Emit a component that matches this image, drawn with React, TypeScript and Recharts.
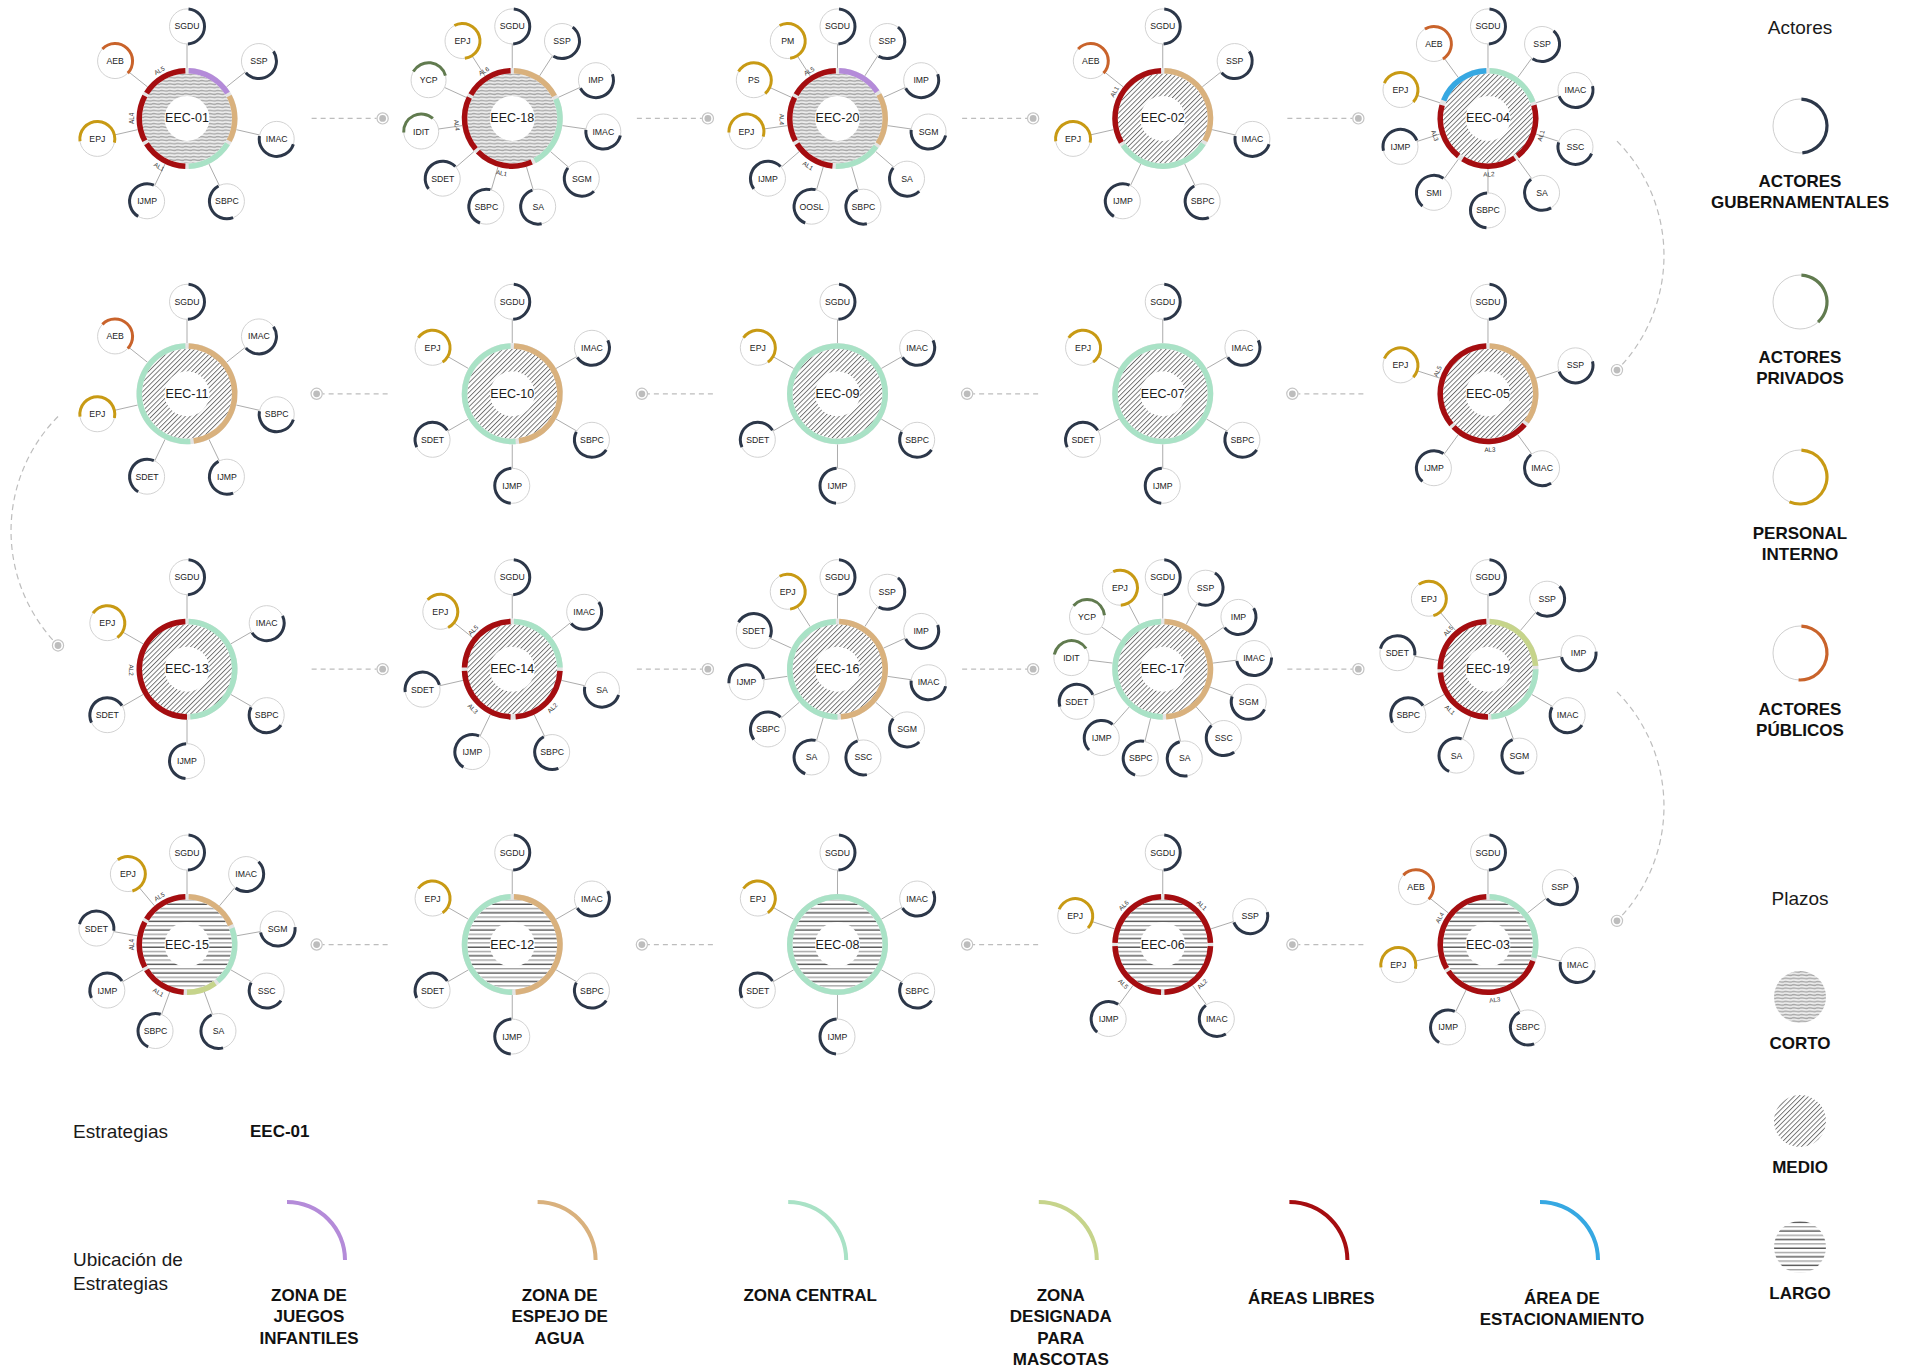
import { ScatterChart, Scatter, XAxis, YAxis, Sector } from "recharts";

const W = 1916;
const H = 1370;
const FONT = '"Liberation Sans", Arial, Helvetica, sans-serif';

// recorrido de las estrategias (serpentina, 5 por fila)
const sequence = [
  "EEC-01", "EEC-18", "EEC-20", "EEC-02", "EEC-04",
  "EEC-05", "EEC-07", "EEC-09", "EEC-10", "EEC-11",
  "EEC-13", "EEC-14", "EEC-16", "EEC-17", "EEC-19",
  "EEC-03", "EEC-06", "EEC-08", "EEC-12", "EEC-15",
];

const plazos = [
  "corto", "corto", "corto", "medio", "medio",
  "medio", "medio", "medio", "medio", "medio",
  "medio", "medio", "medio", "medio", "medio",
  "largo", "largo", "largo", "largo", "largo",
];

const actores = [
  ["SGDU", "SSP", "IMAC", "SBPC", "IJMP", "EPJ", "AEB"],
  ["SGDU", "SSP", "IMP", "IMAC", "SGM", "SA", "SBPC", "SDET", "IDIT", "YCP", "EPJ"],
  ["SGDU", "SSP", "IMP", "SGM", "SA", "SBPC", "OOSL", "IJMP", "EPJ", "PS", "PM"],
  ["SGDU", "SSP", "IMAC", "SBPC", "IJMP", "EPJ", "AEB"],
  ["SGDU", "SSP", "IMAC", "SSC", "SA", "SBPC", "SMI", "IJMP", "EPJ", "AEB"],
  ["SGDU", "SSP", "IMAC", "IJMP", "EPJ"],
  ["SGDU", "IMAC", "SBPC", "IJMP", "SDET", "EPJ"],
  ["SGDU", "IMAC", "SBPC", "IJMP", "SDET", "EPJ"],
  ["SGDU", "IMAC", "SBPC", "IJMP", "SDET", "EPJ"],
  ["SGDU", "IMAC", "SBPC", "IJMP", "SDET", "EPJ", "AEB"],
  ["SGDU", "IMAC", "SBPC", "IJMP", "SDET", "EPJ"],
  ["SGDU", "IMAC", "SA", "SBPC", "IJMP", "SDET", "EPJ"],
  ["SGDU", "SSP", "IMP", "IMAC", "SGM", "SSC", "SA", "SBPC", "IJMP", "SDET", "EPJ"],
  ["SGDU", "SSP", "IMP", "IMAC", "SGM", "SSC", "SA", "SBPC", "IJMP", "SDET", "IDIT", "YCP", "EPJ"],
  ["SGDU", "SSP", "IMP", "IMAC", "SGM", "SA", "SBPC", "SDET", "EPJ"],
  ["SGDU", "SSP", "IMAC", "SBPC", "IJMP", "EPJ", "AEB"],
  ["SGDU", "SSP", "IMAC", "IJMP", "EPJ"],
  ["SGDU", "IMAC", "SBPC", "IJMP", "SDET", "EPJ"],
  ["SGDU", "IMAC", "SBPC", "IJMP", "SDET", "EPJ"],
  ["SGDU", "IMAC", "SGM", "SSC", "SA", "SBPC", "IJMP", "SDET", "EPJ"],
];

// [zona, desde (grados, reloj), hasta, etiqueta]
type Segment = [string, number, number, string?];
const ubicaciones: Segment[][] = [
  [["juegos", 2, 58], ["espejo", 62, 118], ["central", 122, 178], ["libres", 182, 238, "AL1"], ["libres", 242, 298, "AL4"], ["libres", 302, 358, "AL5"]],
  [["espejo", 2, 62], ["central", 66, 152], ["libres", 156, 226, "AL1"], ["libres", 230, 296, "AL4"], ["libres", 300, 358, "AL6"]],
  [["juegos", 2, 56], ["espejo", 60, 122], ["central", 126, 182], ["libres", 186, 238, "AL1"], ["libres", 242, 296, "AL4"], ["libres", 300, 358, "AL5"]],
  [["espejo", 2, 118], ["central", 122, 236], ["libres", 240, 358, "AL1"]],
  [["central", 2, 70], ["libres", 74, 142, "AL1"], ["libres", 146, 212, "AL2"], ["libres", 218, 286, "AL3"], ["estacionamiento", 292, 358]],
  [["espejo", 2, 126], ["libres", 130, 226, "AL3"], ["libres", 230, 358, "AL5"]],
  [["central", 0, 360]],
  [["central", 0, 360]],
  [["espejo", 2, 172], ["central", 176, 358]],
  [["espejo", 2, 172], ["central", 176, 358]],
  [["central", 2, 176], ["libres", 180, 358, "AL2"]],
  [["central", 2, 88], ["libres", 92, 176, "AL2"], ["libres", 182, 268, "AL3"], ["libres", 272, 358, "AL5"]],
  [["espejo", 2, 176], ["central", 180, 358]],
  [["espejo", 2, 176], ["central", 180, 358]],
  [["mascotas", 2, 86], ["central", 90, 176], ["libres", 180, 266, "AL1"], ["libres", 270, 358, "AL5"]],
  [["central", 2, 106], ["libres", 110, 236, "AL3"], ["libres", 240, 358, "AL4"]],
  [["libres", 2, 88, "AL1"], ["libres", 92, 178, "AL2"], ["libres", 182, 268, "AL5"], ["libres", 272, 358, "AL6"]],
  [["central", 0, 360]],
  [["espejo", 2, 176], ["central", 180, 358]],
  [["espejo", 2, 66], ["central", 70, 140], ["mascotas", 144, 180], ["libres", 184, 238, "AL1"], ["libres", 242, 298, "AL4"], ["libres", 302, 358, "AL5"]],
];

const actoresGubernamentales = ["SGDU", "SSP", "IMAC", "SBPC", "IJMP", "SDET", "IMP", "SGM", "SA", "SSC", "SMI", "OOSL"];
const actoresPrivados = ["YCP", "IDIT"];
const personalInterno = ["EPJ", "PS", "PM"];
const actoresPublicos = ["AEB"];

const zonas = ["juegos", "espejo", "central", "mascotas", "libres", "estacionamiento"];
const zonaLabels = [
  ["ZONA DE", "JUEGOS", "INFANTILES"],
  ["ZONA DE", "ESPEJO DE", "AGUA"],
  ["ZONA CENTRAL"],
  ["ZONA", "DESIGNADA", "PARA", "MASCOTAS"],
  ["ÁREAS LIBRES"],
  ["ÁREA DE", "ESTACIONAMIENTO"],
];

const zonaColor: Record<string, string> = {
  juegos: "#b48bd9",
  espejo: "#d9b17d",
  central: "#a9e2c6",
  mascotas: "#c6d48b",
  libres: "#a50d10",
  estacionamiento: "#36a8e2",
};

const actorStyle = {
  gub: { color: "#2c3749", span: 172 },
  priv: { color: "#617b4f", span: 135 },
  int: { color: "#c89a14", span: 200 },
  pub: { color: "#c9632b", span: 180 },
};

const actorKind = (a: string) =>
  actoresPrivados.includes(a) ? "priv" : personalInterno.includes(a) ? "int" : actoresPublicos.includes(a) ? "pub" : "gub";

const COLS = 5;
const posOf = (i: number) => {
  const row = Math.floor(i / COLS);
  const k = i % COLS;
  return { row, col: row % 2 === 0 ? k : COLS - 1 - k };
};

const nodeData = sequence.map((name, i) => ({
  name,
  ...posOf(i),
  plazo: plazos[i],
  actors: actores[i],
  segments: ubicaciones[i],
}));

const linkData = sequence.slice(0, -1).map((_, i) => {
  const a = posOf(i);
  const b = posOf(i + 1);
  return {
    col: (a.col + b.col) / 2,
    row: (a.row + b.row) / 2,
    dx: b.col - a.col,
    dy: b.row - a.row,
    side: a.col === 0 ? -1 : 1,
  };
});

// geometry (px)
const RING_OUT = 50.5;
const RING_IN = 45;
const HOLE = 22.5;
const ORBIT = 92;
const ACTOR_R = 17.5;

const polar = (deg: number) => {
  const r = (deg * Math.PI) / 180;
  return [Math.sin(r), -Math.cos(r)];
};

function Arc({ cx, cy, r0, r1, from, to, fill }: any) {
  return (
    <Sector
      cx={cx}
      cy={cy}
      innerRadius={r0}
      outerRadius={r1}
      startAngle={90 - from}
      endAngle={90 - to}
      fill={fill}
      stroke="none"
    />
  );
}

function StrategyNode(props: any) {
  const { cx, cy, payload } = props;
  if (cx == null || cy == null) return null;
  const { name, plazo, actors, segments } = payload;
  const n = actors.length;
  return (
    <g>
      {actors.map((a: string, k: number) => {
        const [sx, sy] = polar((k * 360) / n);
        return (
          <line
            key={"s" + a}
            x1={cx + sx * RING_OUT}
            y1={cy + sy * RING_OUT}
            x2={cx + sx * (ORBIT - ACTOR_R)}
            y2={cy + sy * (ORBIT - ACTOR_R)}
            stroke="#a3a3a3"
            strokeWidth={0.9}
          />
        );
      })}
      <circle cx={cx} cy={cy} r={RING_IN} fill={`url(#plazo-${plazo})`} />
      <circle cx={cx} cy={cy} r={HOLE} fill="#fff" />
      <circle cx={cx} cy={cy} r={(RING_IN + RING_OUT) / 2} fill="none" stroke="#e4e4e4" strokeWidth={RING_OUT - RING_IN} />
      {segments.map((s: Segment, k: number) => (
        <Arc key={"g" + k} cx={cx} cy={cy} r0={RING_IN} r1={RING_OUT} from={s[1]} to={s[2]} fill={zonaColor[s[0]]} />
      ))}
      {segments
        .filter((s: Segment) => s[3])
        .map((s: Segment, k: number) => {
          const mid = (s[1] + s[2]) / 2;
          const [lx, ly] = polar(mid);
          const rot = mid > 90 && mid < 270 ? mid - 180 : mid;
          const x = cx + lx * 55.5;
          const y = cy + ly * 55.5;
          return (
            <text
              key={"l" + k}
              x={x}
              y={y}
              transform={`rotate(${rot} ${x} ${y})`}
              textAnchor="middle"
              dominantBaseline="central"
              fontSize={6.3}
              fill="#333"
              fontFamily={FONT}
            >
              {s[3]}
            </text>
          );
        })}
      <text x={cx} y={cy} textAnchor="middle" dominantBaseline="central" fontSize={12.5} fill="#1b1b1b" fontFamily={FONT}>
        {name}
      </text>
      {actors.map((a: string, k: number) => {
        const ang = (k * 360) / n;
        const [sx, sy] = polar(ang);
        const ax = cx + sx * ORBIT;
        const ay = cy + sy * ORBIT;
        const st = (actorStyle as any)[actorKind(a)];
        return (
          <g key={"a" + a}>
            <circle cx={ax} cy={ay} r={ACTOR_R} fill="#fff" stroke="#cdcdcd" strokeWidth={0.9} />
            <Arc cx={ax} cy={ay} r0={ACTOR_R - 1.5} r1={ACTOR_R + 1.5} from={ang + 5} to={ang + 5 + st.span} fill={st.color} />
            <text x={ax} y={ay} textAnchor="middle" dominantBaseline="central" fontSize={8.7} fill="#222" fontFamily={FONT}>
              {a}
            </text>
          </g>
        );
      })}
    </g>
  );
}

function LinkShape(props: any) {
  const { cx, cy, payload } = props;
  if (cx == null || cy == null) return null;
  const stroke = "#bdbdbd";
  let ex: number;
  let ey: number;
  let body;
  if (payload.dy === 0) {
    const d = payload.dx;
    ex = cx + 33 * d;
    ey = cy;
    body = <line x1={cx - 38 * d} y1={cy} x2={cx + 27 * d} y2={cy} stroke={stroke} strokeWidth={1.3} strokeDasharray="5 4" />;
  } else {
    const s = payload.side;
    const x = cx + 129 * s;
    const y1 = cy - 115;
    const y2 = cy + 114;
    ex = x;
    ey = y2;
    body = (
      <path
        d={`M ${x} ${y1} A 163 163 0 0 ${s > 0 ? 1 : 0} ${x} ${y2}`}
        fill="none"
        stroke={stroke}
        strokeWidth={1.2}
        strokeDasharray="6 4"
      />
    );
  }
  return (
    <g>
      {body}
      <circle cx={ex} cy={ey} r={5.6} fill="#fff" stroke="#c4c4c4" strokeWidth={1.2} />
      <circle cx={ex} cy={ey} r={3.4} fill="#bdbdbd" />
    </g>
  );
}

function Legends() {
  const lx = 1800;
  const actorRows = [
    { kind: "gub", cy: 126, lines: ["ACTORES", "GUBERNAMENTALES"], ly: 181 },
    { kind: "priv", cy: 302, lines: ["ACTORES", "PRIVADOS"], ly: 357 },
    { kind: "int", cy: 477, lines: ["PERSONAL", "INTERNO"], ly: 533 },
    { kind: "pub", cy: 653, lines: ["ACTORES", "PÚBLICOS"], ly: 709 },
  ];
  const plazoRows = [
    { id: "corto", label: "CORTO", cy: 997 },
    { id: "medio", label: "MEDIO", cy: 1121 },
    { id: "largo", label: "LARGO", cy: 1247 },
  ];
  const bold = { fontFamily: FONT, fontWeight: 700, fontSize: 17, fill: "#111" };
  const reg = { fontFamily: FONT, fontSize: 19, fill: "#1a1a1a" };
  return (
    <svg width={W} height={H} style={{ position: "absolute", left: 0, top: 0, pointerEvents: "none" }}>
      <defs>
        <pattern id="plazo-corto" patternUnits="userSpaceOnUse" width="8" height="3.3">
          <rect width="8" height="3.3" fill="#ededed" />
          <path d="M0 1.65 Q2 1.1 4 1.65 T8 1.65" stroke="#a6a6a6" strokeWidth="1.4" fill="none" />
        </pattern>
        <pattern id="plazo-medio" patternUnits="userSpaceOnUse" width="3.4" height="3.4" patternTransform="rotate(45)">
          <rect width="3.4" height="3.4" fill="#fff" />
          <line x1="0.5" y1="0" x2="0.5" y2="3.4" stroke="#555" strokeWidth="0.8" />
        </pattern>
        <pattern id="plazo-largo" patternUnits="userSpaceOnUse" width="10" height="8.6">
          <rect width="10" height="8.6" fill="#fff" />
          <line x1="0" y1="1.2" x2="10" y2="1.2" stroke="#444" strokeWidth="1.3" />
          <line x1="0" y1="5.5" x2="10" y2="5.5" stroke="#9c9c9c" strokeWidth="1.3" />
        </pattern>
      </defs>

      <text x={lx} y={27} textAnchor="middle" dominantBaseline="central" {...reg}>Actores</text>
      {actorRows.map((r) => {
        const st = (actorStyle as any)[r.kind];
        return (
          <g key={r.kind}>
            <circle cx={lx} cy={r.cy} r={27} fill="#fff" stroke="#cfcfcf" strokeWidth={1} />
            <Arc cx={lx} cy={r.cy} r0={25.4} r1={28.6} from={3} to={3 + st.span} fill={st.color} />
            {r.lines.map((t, k) => (
              <text key={t} x={lx} y={r.ly + k * 21} textAnchor="middle" dominantBaseline="central" {...bold}>{t}</text>
            ))}
          </g>
        );
      })}

      <text x={lx} y={898} textAnchor="middle" dominantBaseline="central" {...reg}>Plazos</text>
      {plazoRows.map((p) => (
        <g key={p.id}>
          <circle cx={lx} cy={p.cy} r={26} fill={`url(#plazo-${p.id})`} />
          <text x={lx} y={p.cy + 46} textAnchor="middle" dominantBaseline="central" {...bold}>{p.label}</text>
        </g>
      ))}

      <text x={73} y={1131} dominantBaseline="central" {...reg}>Estrategias</text>
      <text x={250} y={1131} dominantBaseline="central" {...bold}>{sequence[0]}</text>
      <text x={73} y={1259} dominantBaseline="central" {...reg}>Ubicación de</text>
      <text x={73} y={1283} dominantBaseline="central" {...reg}>Estrategias</text>
      {zonas.map((z, i) => {
        const ax = 287 + i * 250.6;
        return (
          <g key={z}>
            <Arc cx={ax} cy={1260} r0={56} r1={60} from={0} to={90} fill={zonaColor[z]} />
            {zonaLabels[i].map((t, k) => (
              <text key={t} x={ax + 22} y={(zonaLabels[i].length <= 2 && i >= 4 ? 1298 : 1295) + k * 21.5} textAnchor="middle" dominantBaseline="central" {...bold}>{t}</text>
            ))}
          </g>
        );
      })}
    </svg>
  );
}

export default function App() {
  return (
    <div style={{ position: "absolute", left: 0, top: 0, width: W, height: H, overflow: "hidden", background: "#fff" }}>
      <ScatterChart width={W} height={H} margin={{ top: 0, right: 0, bottom: 0, left: 0 }}>
        <XAxis type="number" dataKey="col" domain={[-0.575, 5.316]} allowDataOverflow hide />
        <YAxis type="number" dataKey="row" domain={[-0.43, 4.545]} allowDataOverflow reversed hide />
        <Scatter data={linkData} isAnimationActive={false} shape={(p: any) => <LinkShape {...p} />} />
        <Scatter data={nodeData} isAnimationActive={false} shape={(p: any) => <StrategyNode {...p} />} />
      </ScatterChart>
      <Legends />
    </div>
  );
}
